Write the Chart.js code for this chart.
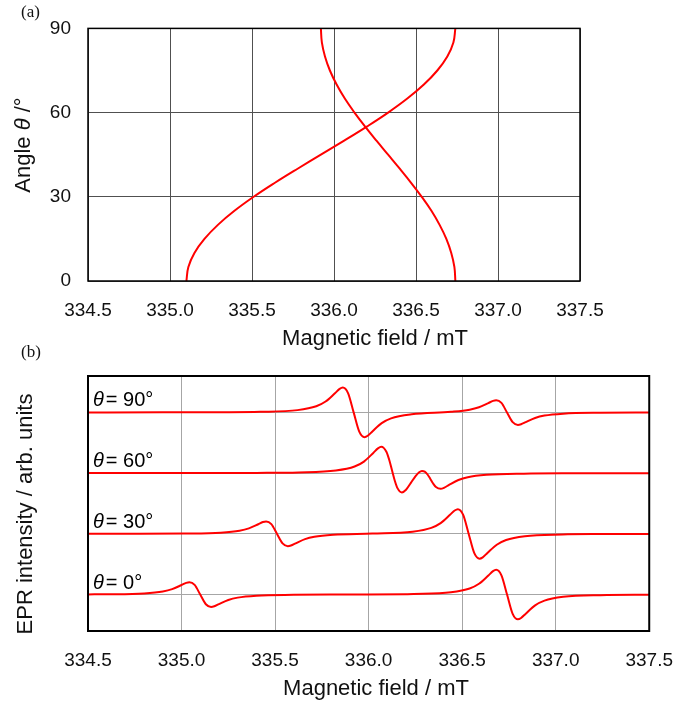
<!DOCTYPE html>
<html lang="en">
<head>
    <meta charset="UTF-8">
    <title>EPR angular dependence</title>
    <script src="https://cdn.jsdelivr.net/npm/chart.js"></script>
    <style>
        * { box-sizing: border-box; }
        body, html { margin:0; padding:0; background:#fff; }
        #wrap { position:relative; width:691px; height:702px; font-family:"Liberation Sans", Arial, sans-serif; color:#111; }
        .panel { position:absolute; left:0; }
        .tag { position:absolute; font-family:"Liberation Serif", "Times New Roman", serif; font-size:17px; line-height:17px; }
        .ttl { position:absolute; width:300px; height:22px; font-size:22px; line-height:22px; text-align:center; white-space:nowrap; }
        .rot { transform:rotate(-90deg); }
    </style>
</head>
<body>
<div id="wrap">
    <canvas id="chartA" class="panel" style="top:0" width="691" height="340"></canvas>
    <canvas id="chartB" class="panel" style="top:340px" width="691" height="362"></canvas>
    <div class="tag" style="left:21px; top:2.5px">(a)</div>
    <div class="tag" style="left:21px; top:342.5px">(b)</div>
    <div class="ttl rot" style="left:-127px; top:133.5px">Angle <i>θ</i> /°</div>
    <div class="ttl" style="left:225px; top:327px">Magnetic field / mT</div>
    <div class="ttl rot" style="left:-125.5px; top:503px">EPR intensity / arb. units</div>
    <div class="ttl" style="left:226px; top:677px">Magnetic field / mT</div>
</div>
<script>
    // (a) resonance field vs angle
    const angles = [0, 5, 10, 15, 20, 25, 30, 35, 40, 45, 50, 55, 60, 65, 70, 75, 80, 85, 90];
    const fieldLow = [335.100, 335.112, 335.149, 335.210, 335.292, 335.393, 335.510, 335.640, 335.778, 335.920,
                      336.062, 336.200, 336.330, 336.447, 336.548, 336.630, 336.691, 336.728, 336.740];
    const fieldHigh = [336.740, 336.734, 336.715, 336.685, 336.644, 336.594, 336.535, 336.470, 336.401, 336.330,
                       336.259, 336.190, 336.125, 336.066, 336.016, 335.975, 335.945, 335.926, 335.920];
    const fieldTicks = [334.5, 335.0, 335.5, 336.0, 336.5, 337.0, 337.5];
    const angleTicks = [0, 30, 60, 90];

    // (b) spectra, one pair of arrays per angle
    const field0 = [334.5, 334.6, 334.8, 334.9, 334.95, 335.0, 335.025, 335.042, 335.07, 335.1, 335.13, 335.158, 335.175,
                    335.2, 335.25, 335.3, 335.4, 335.6, 335.9, 336.2, 336.24, 336.44, 336.54, 336.59, 336.64, 336.665,
                    336.682, 336.71, 336.74, 336.77, 336.798, 336.815, 336.84, 336.89, 336.94, 337.04, 337.24, 337.5];
    const epr0 = [0.007, 0.012, 0.047, 0.126, 0.223, 0.393, 0.483, 0.51, 0.397, 0, -0.397, -0.51, -0.483,
                  -0.393, -0.223, -0.126, -0.047, -0.012, 0.002, 0.017, 0.022, 0.094, 0.251, 0.446, 0.785, 0.965,
                  1.02, 0.793, 0, -0.793, -1.02, -0.965, -0.785, -0.446, -0.251, -0.094, -0.023, -0.007];

    const field30 = [334.5, 334.75, 335.01, 335.21, 335.31, 335.36, 335.41, 335.435, 335.452, 335.48, 335.51, 335.54,
                     335.568, 335.585, 335.61, 335.66, 335.71, 335.81, 336.02, 336.235, 336.335, 336.385, 336.435,
                     336.46, 336.477, 336.505, 336.535, 336.565, 336.593, 336.61, 336.635, 336.685, 336.735, 336.835,
                     337.035, 337.25, 337.5];
    const epr30 = [0.002, 0.003, 0.013, 0.049, 0.128, 0.225, 0.395, 0.486, 0.513, 0.400, 0.003, -0.394,
                   -0.507, -0.479, -0.389, -0.218, -0.121, -0.039, 0.010, 0.090, 0.248, 0.444, 0.783,
                   0.963, 1.018, 0.791, -0.002, -0.795, -1.022, -0.967, -0.787, -0.448, -0.252, -0.095,
                   -0.024, -0.008, -0.003];

    const field60 = [334.5, 335.0, 335.4, 335.625, 335.825, 335.925, 335.975, 336.025, 336.05, 336.068, 336.095,
                     336.11, 336.125, 336.14, 336.155, 336.178, 336.2, 336.225, 336.25, 336.27, 336.285, 336.3,
                     336.315, 336.33, 336.345, 336.36, 336.385, 336.405, 336.43, 336.48, 336.53, 336.63, 336.83,
                     337.1, 337.5];
    const epr60 = [0.001, 0.003, 0.010, 0.028, 0.106, 0.272, 0.476, 0.831, 1.021, 1.087, 0.880,
                   0.552, 0.119, -0.310, -0.627, -0.796, -0.683, -0.412, -0.131, 0.036, 0.092, 0.063,
                   -0.056, -0.238, -0.428, -0.570, -0.645, -0.595, -0.483, -0.283, -0.168, -0.070, -0.020,
                   -0.007, -0.002];

    const field90 = [334.5, 334.9, 335.2, 335.42, 335.62, 335.72, 335.77, 335.82, 335.845, 335.862, 335.89, 335.92,
                     335.95, 335.978, 335.995, 336.02, 336.07, 336.12, 336.23, 336.44, 336.54, 336.59, 336.64,
                     336.665, 336.682, 336.71, 336.74, 336.77, 336.798, 336.815, 336.84, 336.89, 336.94, 337.04,
                     337.24, 337.5];
    const epr90 = [0.001, 0.003, 0.008, 0.024, 0.095, 0.252, 0.448, 0.787, 0.967, 1.022, 0.796, 0.003,
                   -0.790, -1.017, -0.962, -0.781, -0.441, -0.245, -0.076, 0.026, 0.113, 0.213, 0.385,
                   0.475, 0.503, 0.390, -0.006, -0.402, -0.515, -0.487, -0.397, -0.227, -0.129, -0.050,
                   -0.013, -0.004];

    const spectrumAngles = [0, 30, 60, 90];
    const offsets = [0, 2.5, 5, 7.5];

    const tickFont = { family: '"Liberation Sans", Arial, sans-serif', size: 19 };
    const red = '#ff0000';

    // black box round the plot area
    const frame = width => ({
        id: 'frame',
        afterDraw(chart) {
            const { ctx, chartArea: a } = chart;
            ctx.save();
            ctx.strokeStyle = '#000';
            ctx.lineWidth = width;
            ctx.strokeRect(a.left, a.top, a.right - a.left, a.bottom - a.top);
            ctx.restore();
        }
    });

    // "θ = 90°" labels sitting on each baseline
    const thetaLabels = {
        id: 'thetaLabels',
        afterDatasetsDraw(chart) {
            const { ctx, chartArea, scales: { y } } = chart;
            ctx.save();
            ctx.fillStyle = '#000';
            ctx.textBaseline = 'alphabetic';
            spectrumAngles.forEach((t, i) => {
                const py = y.getPixelForValue(offsets[i]) - 6;
                let px = chartArea.left + 5;
                ctx.font = 'italic 20px "Liberation Sans", Arial, sans-serif';
                ctx.fillText('θ', px, py);
                px += ctx.measureText('θ').width + 2;
                ctx.font = '20px "Liberation Sans", Arial, sans-serif';
                ctx.fillText('= ' + t + '°', px, py);
            });
            ctx.restore();
        }
    };

    const xScale = (gridColor, height) => ({
        type: 'linear', min: 334.5, max: 337.5,
        afterBuildTicks: s => { s.ticks = fieldTicks.map(v => ({ value: v })); },
        afterFit: s => { s.height = height; },
        ticks: { padding: 18, font: tickFont, color: '#111', maxRotation: 0, autoSkip: false, callback: v => v.toFixed(1) },
        grid: { color: gridColor, lineWidth: 1, drawTicks: false },
        border: { display: false }
    });

    new Chart(document.getElementById('chartA'), {
        type: 'line',
        data: {
            datasets: [
                { data: angles.map((a, i) => ({ x: fieldLow[i], y: a })) },
                { data: angles.map((a, i) => ({ x: fieldHigh[i], y: a })) }
            ]
        },
        options: {
            responsive: false,
            animation: false,
            layout: { padding: { left: 0, right: 111, top: 26, bottom: 0 } },
            plugins: { legend: { display: false }, tooltip: { enabled: false } },
            elements: {
                point: { radius: 0 },
                line: { borderColor: red, borderWidth: 2, tension: 0.4, fill: false }
            },
            scales: {
                x: xScale('#505050', 59),
                y: {
                    type: 'linear', min: 0, max: 90,
                    afterBuildTicks: s => { s.ticks = angleTicks.map(v => ({ value: v })); },
                    afterFit: s => { s.width = 88; },
                    ticks: { padding: 17, font: tickFont, color: '#111' },
                    grid: { color: '#505050', lineWidth: 1, drawTicks: false },
                    border: { display: false }
                }
            }
        },
        plugins: [frame(1.5)]
    });

    const spectra = [[field0, epr0], [field30, epr30], [field60, epr60], [field90, epr90]];

    new Chart(document.getElementById('chartB'), {
        type: 'line',
        data: {
            datasets: spectra.map(([f, e], k) => ({
                data: f.map((x, i) => ({ x, y: e[i] + offsets[k] })),
                cubicInterpolationMode: 'monotone'
            }))
        },
        options: {
            responsive: false,
            animation: false,
            layout: { padding: { left: 0, right: 38, top: 36, bottom: 0 } },
            plugins: { legend: { display: false }, tooltip: { enabled: false } },
            elements: {
                point: { radius: 0 },
                line: { borderColor: red, borderWidth: 2, fill: false }
            },
            scales: {
                x: xScale('#a6a6a6', 71),
                y: {
                    type: 'linear', min: -1.5, max: 9,
                    afterBuildTicks: s => { s.ticks = offsets.map(v => ({ value: v })); },
                    afterFit: s => { s.width = 88; },
                    ticks: { display: false },
                    grid: { color: '#a6a6a6', lineWidth: 1, drawTicks: false },
                    border: { display: false }
                }
            }
        },
        plugins: [frame(2), thetaLabels]
    });
</script>
</body>
</html>
